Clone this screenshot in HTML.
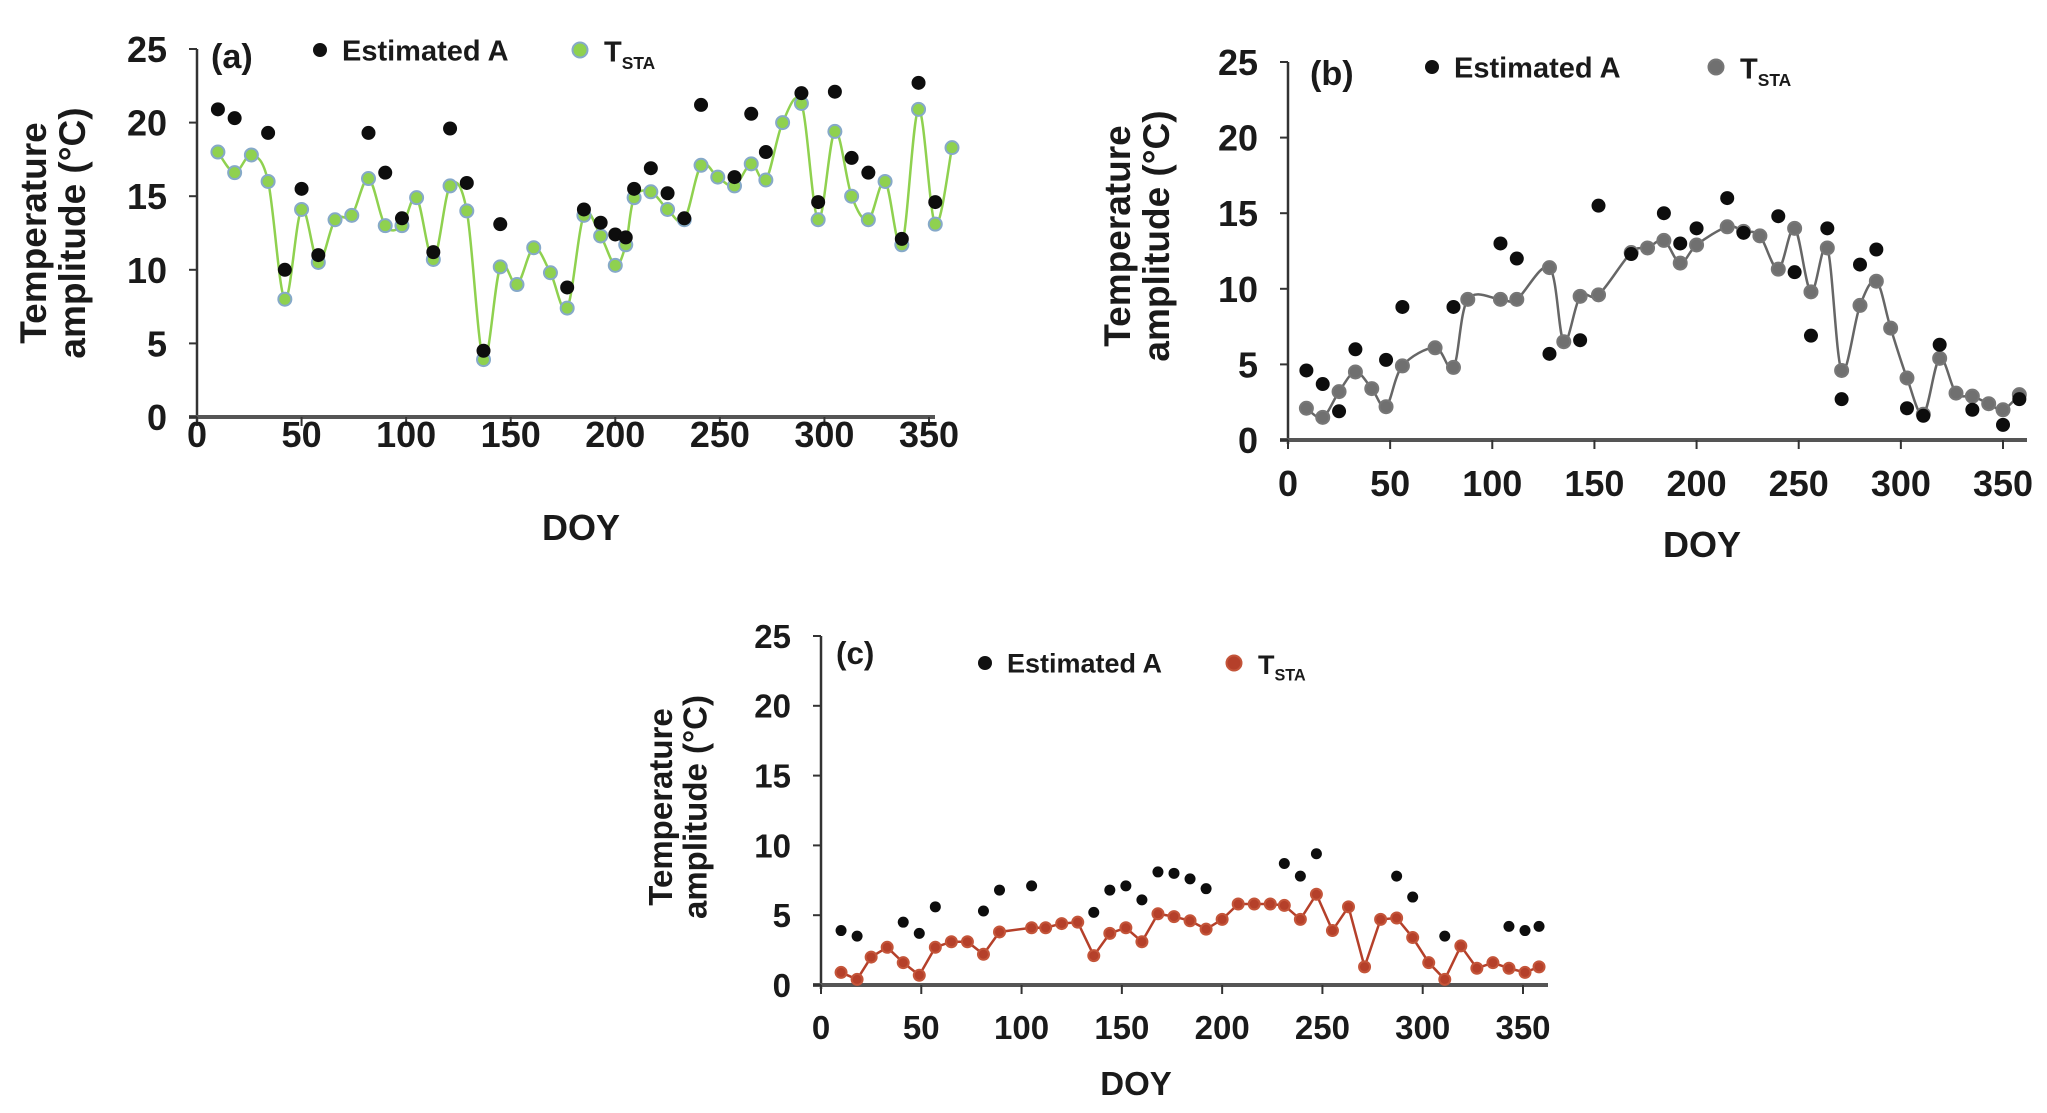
<!DOCTYPE html>
<html><head><meta charset="utf-8">
<style>
html,body{margin:0;padding:0;background:#fff;}
svg{display:block;font-family:"Liberation Sans",Arial,sans-serif;}
</style></head>
<body>
<svg id="fig" width="2047" height="1113" viewBox="0 0 2047 1113" xmlns="http://www.w3.org/2000/svg"></svg>
<script>
// ---- shared ticks ----
const xTicks = [0,50,100,150,200,250,300,350];
const yTicks = [0,5,10,15,20,25];

// ---- panel (a) ----
const aTstaDoy = [10,18,26,34,42,50,58,66,74,82,90,98,105,113,121,129,137,145,153,161,169,177,185,193,200,205,209,217,225,233,241,249,257,265,272,280,289,297,305,313,321,329,337,345,353,361];
const aTstaVal = [18.0,16.6,17.8,16.0,8.0,14.1,10.5,13.4,13.7,16.2,13.0,13.0,14.9,10.7,15.7,14.0,3.9,10.2,9.0,11.5,9.8,7.4,13.7,12.3,10.3,11.7,14.9,15.3,14.1,13.4,17.1,16.3,15.7,17.2,16.1,20.0,21.3,13.4,19.4,15.0,13.4,16.0,11.7,20.9,13.1,18.3];
const aEstDoy = [10,18,34,42,50,58,82,90,98,113,121,129,137,145,177,185,193,200,205,209,217,225,233,241,257,265,272,289,297,305,313,321,337,345,353];
const aEstVal = [20.9,20.3,19.3,10.0,15.5,11.0,19.3,16.6,13.5,11.2,19.6,15.9,4.5,13.1,8.8,14.1,13.2,12.4,12.2,15.5,16.9,15.2,13.5,21.2,16.3,20.6,18.0,22.0,14.6,22.1,17.6,16.6,12.1,22.7,14.6];

// ---- panel (b) ----
const bTstaDoy = [9,17,25,33,41,48,56,72,81,88,104,112,128,135,143,152,168,176,184,192,200,215,223,231,240,248,256,264,271,280,288,295,303,311,319,327,335,343,350,358];
const bTstaVal = [2.1,1.5,3.2,4.5,3.4,2.2,4.9,6.1,4.8,9.3,9.3,9.3,11.4,6.5,9.5,9.6,12.4,12.7,13.2,11.7,12.9,14.1,13.8,13.5,11.3,14.0,9.8,12.7,4.6,8.9,10.5,7.4,4.1,1.7,5.4,3.1,2.9,2.4,2.0,3.0];
const bEstDoy = [9,17,25,33,48,56,81,104,112,128,143,152,168,184,192,200,215,223,240,248,256,264,271,280,288,303,311,319,335,350,358];
const bEstVal = [4.6,3.7,1.9,6.0,5.3,8.8,8.8,13.0,12.0,5.7,6.6,15.5,12.3,15.0,13.0,14.0,16.0,13.7,14.8,11.1,6.9,14.0,2.7,11.6,12.6,2.1,1.6,6.3,2.0,1.0,2.7];

// ---- panel (c) ----
const cTstaDoy = [10,18,25,33,41,49,57,65,73,81,89,105,112,120,128,136,144,152,160,168,176,184,192,200,208,216,224,231,239,247,255,263,271,279,287,295,303,311,319,327,335,343,351,358];
const cTstaVal = [0.9,0.4,2.0,2.7,1.6,0.7,2.7,3.1,3.1,2.2,3.8,4.1,4.1,4.4,4.5,2.1,3.7,4.1,3.1,5.1,4.9,4.6,4.0,4.7,5.8,5.8,5.8,5.7,4.7,6.5,3.9,5.6,1.3,4.7,4.8,3.4,1.6,0.4,2.8,1.2,1.6,1.2,0.9,1.3];
const cEstDoy = [10,18,41,49,57,81,89,105,136,144,152,160,168,176,184,192,231,239,247,287,295,311,343,351,358];
const cEstVal = [3.9,3.5,4.5,3.7,5.6,5.3,6.8,7.1,5.2,6.8,7.1,6.1,8.1,8.0,7.6,6.9,8.7,7.8,9.4,7.8,6.3,3.5,4.2,3.9,4.2];

const NS = "http://www.w3.org/2000/svg";
const svg = document.getElementById('fig');
function mk(tag, attrs, parent){
  const e = document.createElementNS(NS, tag);
  for (const k in attrs) e.setAttribute(k, attrs[k]);
  (parent||svg).appendChild(e);
  return e;
}

function smoothPath(pts){
  let d = `M${pts[0][0]},${pts[0][1]}`;
  for (let i=0;i<pts.length-1;i++){
    const p0 = pts[i-1]||pts[i], p1=pts[i], p2=pts[i+1], p3=pts[i+2]||p2;
    const t = 6;
    const c1 = [p1[0]+(p2[0]-p0[0])/t, p1[1]+(p2[1]-p0[1])/t];
    const c2 = [p2[0]-(p3[0]-p1[0])/t, p2[1]-(p3[1]-p1[1])/t];
    d += ` C${c1[0]},${c1[1]} ${c2[0]},${c2[1]} ${p2[0]},${p2[1]}`;
  }
  return d;
}

function panel(cfg){
  const g = mk('g', {});
  
  
  const X = v => cfg.x0 + (v/350)*(cfg.x350-cfg.x0);
  const Y = v => cfg.y0 - (v/25)*(cfg.y0-cfg.y25);
  // axes
  const ya = mk('line', {x1:cfg.x0, y1:cfg.y25, x2:cfg.x0, y2:cfg.y0+4, stroke:'#333', 'stroke-width':2.5}, g);
  
  
  const xa = mk('line', {x1:cfg.x0-8, y1:cfg.y0, x2:cfg.xEnd, y2:cfg.y0, stroke:'#555', 'stroke-width':4}, g);
  
  
  yTicks.forEach(v=>{
    mk('line', {x1:cfg.x0-8, y1:Y(v), x2:cfg.x0, y2:Y(v), stroke:'#333','stroke-width':2}, g);
    const t = mk('text', {x:cfg.x0-30, y:Y(v)+cfg.fs*0.36, 'text-anchor':'end','font-size':cfg.fs,'font-weight':'bold',fill:'#1a1a1a'}, g);
    t.textContent = v;
    
    
  });
  xTicks.forEach(v=>{
    mk('line', {x1:X(v), y1:cfg.y0, x2:X(v), y2:cfg.y0+9, stroke:'#333','stroke-width':2}, g);
    const t = mk('text', {x:X(v), y:cfg.y0+cfg.xlOff+cfg.fs*0.36, 'text-anchor':'middle','font-size':cfg.fs,'font-weight':'bold',fill:'#1a1a1a'}, g);
    t.textContent = v;
    
    
  });
  // axis titles
  const xt = mk('text', {x:cfg.doyX, y:cfg.doyY, 'text-anchor':'middle','font-size':cfg.fs,'font-weight':'bold',fill:'#1a1a1a'}, g);
  xt.textContent = 'DOY';
  
  
  const yt = mk('text', {transform:`translate(${cfg.ytX},${cfg.ytY}) rotate(-90)`, 'text-anchor':'middle','font-size':cfg.tfs,'font-weight':'bold',fill:'#1a1a1a'}, g);
  
  
  const s1 = mk('tspan', {x:0, y:0}, yt); s1.textContent = 'Temperature';
  const s2 = mk('tspan', {x:0, dy:cfg.tfs*1.05}, yt); s2.textContent = 'amplitude (°C)';
  // panel label
  const pl = mk('text', {x:cfg.lblX, y:cfg.lblY, 'font-size':cfg.fs*0.95,'font-weight':'bold',fill:'#1a1a1a'}, g);
  pl.textContent = '(' + cfg.id + ')';
  
  
  // legend
  const lg = mk('g', {}, g);
  
  
  mk('circle', {cx:cfg.legDot, cy:cfg.legY, r:7, fill:'#111'}, lg);
  const l1 = mk('text', {x:cfg.legDot+22, y:cfg.legY+cfg.lfs*0.36, 'font-size':cfg.lfs,'font-weight':'bold',fill:'#1a1a1a'}, lg);
  l1.textContent = 'Estimated A';
  
  
  mk('circle', {cx:cfg.legMk, cy:cfg.legY, r:7.5, fill:cfg.mfill, stroke:cfg.mstroke, 'stroke-width':2}, lg);
  const l2 = mk('text', {x:cfg.legMk+24, y:cfg.legY+cfg.lfs*0.4, 'font-size':cfg.lfs,'font-weight':'bold',fill:'#1a1a1a'}, lg);
  
  
  const a1 = mk('tspan', {}, l2); a1.textContent = 'T';
  const a2 = mk('tspan', {dy:cfg.lfs*0.25,'font-size':cfg.lfs*0.6}, l2); a2.textContent = 'STA';
  // series line
  const pts = cfg.tDoy.map((d,i)=>[X(d), Y(cfg.tVal[i])]);
  let d;
  if (cfg.smooth) d = smoothPath(pts);
  else d = 'M' + pts.map(p=>p.join(',')).join(' L');
  const ln = mk('path', {d:d, fill:'none', stroke:cfg.lcolor, 'stroke-width':2.5}, g);
  
  
  pts.forEach(p=>{
    const c = mk('circle', {cx:p[0], cy:p[1], r:cfg.mr, fill:cfg.mfill, stroke:cfg.mstroke, 'stroke-width':2}, g);
    
    
  });
  cfg.eDoy.forEach((dd,i)=>{
    const c = mk('circle', {cx:X(dd), cy:Y(cfg.eVal[i]), r:cfg.er, fill:'#0d0d0d'}, g);
    
    
  });
}

panel({id:'a', x0:197, x350:929, xEnd:935, y0:417, y25:49, fs:36, tfs:37, lfs:29, xlOff:17,
  doyX:581, doyY:540, ytX:46, ytY:233, lblX:211, lblY:68,
  legDot:320, legMk:580, legY:50,
  tDoy:aTstaDoy, tVal:aTstaVal, eDoy:aEstDoy, eVal:aEstVal,
  smooth:true, lcolor:'#8fd14f', mfill:'#8fd14f', mstroke:'#86a9c9', mr:6.5, er:7});

panel({id:'b', x0:1288, x350:2003, xEnd:2027, y0:440, y25:62, fs:36, tfs:37, lfs:29, xlOff:43,
  doyX:1702, doyY:557, ytX:1130, ytY:236, lblX:1310, lblY:85,
  legDot:1432, legMk:1716, legY:67,
  tDoy:bTstaDoy, tVal:bTstaVal, eDoy:bEstDoy, eVal:bEstVal,
  smooth:true, lcolor:'#666', mfill:'#707070', mstroke:'#777', mr:6.5, er:7});

panel({id:'c', x0:821, x350:1523, xEnd:1548, y0:985, y25:636, fs:33, tfs:33, lfs:27, xlOff:42,
  doyX:1136, doyY:1095, ytX:672, ytY:807, lblX:836, lblY:664,
  legDot:985, legMk:1234, legY:663,
  tDoy:cTstaDoy, tVal:cTstaVal, eDoy:cEstDoy, eVal:cEstVal,
  smooth:false, lcolor:'#b5402a', mfill:'#b5402a', mstroke:'#c4553a', mr:5.5, er:5.5});
</script>
</body></html>
